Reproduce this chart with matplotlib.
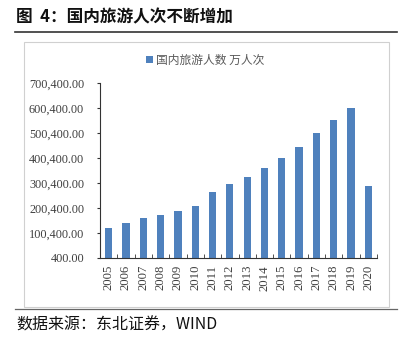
import matplotlib.pyplot as plt
import numpy as np
from matplotlib.patches import Rectangle
from matplotlib.lines import Line2D
from matplotlib.ticker import FuncFormatter

plt.rcParams['font.family'] = ['Liberation Serif', 'Noto Sans CJK SC', 'DejaVu Sans']

years = ['2005', '2006', '2007', '2008', '2009', '2010', '2011', '2012',
         '2013', '2014', '2015', '2016', '2017', '2018', '2019', '2020']
trips = [121200, 139400, 161000, 171200, 190200, 210300, 264100, 295700,
         326200, 361100, 400000, 444000, 500100, 553900, 600600, 287900]
y_ticks = [400, 100400, 200400, 300400, 400400, 500400, 600400, 700400]

fig = plt.figure(figsize=(4.01, 3.47), dpi=100)
W, H = 401, 347

# title with rule under it
fig.text(16 / W, 1 - 17 / H, '图  4：国内旅游人次不断增加', fontsize=12, fontweight='bold',
         family=['Noto Sans CJK SC'], va='center', ha='left', color='#111111')
fig.add_artist(Line2D([15 / W, 397 / W], [1 - 32 / H, 1 - 32 / H], color='#333333', lw=1.2))

# light frame around the chart area
fig.add_artist(Rectangle((24 / W, 1 - 307 / H), (389 - 24) / W, (307 - 42) / H,
                         fill=False, edgecolor='#d0d0d0', lw=0.8))

ax = fig.add_axes([100 / W, 1 - 258 / H, (377 - 100) / W, (258 - 83) / H])
x = np.arange(len(years))
ax.bar(x, np.array(trips) - y_ticks[0], bottom=y_ticks[0], width=0.42,
       color='#4f81bd', label='国内旅游人数 万人次')

ax.set_xlim(-0.5, len(years) - 0.5)
ax.set_ylim(y_ticks[0], y_ticks[-1])
ax.set_yticks(y_ticks)
ax.yaxis.set_major_formatter(FuncFormatter(lambda v, p: f'{v:,.2f}'))
ax.tick_params(axis='y', direction='out', length=2.5, labelsize=8.8, colors='#333333',
               labelcolor='#404040', pad=9)

ax.set_xticks(x)
ax.set_xticklabels(years, rotation=90, fontsize=9.2, color='#404040')
ax.tick_params(axis='x', length=0, pad=5)
ax.set_xticks(np.arange(len(years) + 1) - 0.5, minor=True)
ax.tick_params(axis='x', which='minor', direction='in', length=3, color='#333333')

for s in ['top', 'right']:
    ax.spines[s].set_visible(False)
for s in ['left', 'bottom']:
    ax.spines[s].set_color('#333333')
    ax.spines[s].set_linewidth(0.8)

leg = fig.legend(loc='center', bbox_to_anchor=(205 / W, 1 - 60 / H), frameon=False,
                 prop={'family': ['Noto Sans CJK SC'], 'size': 8.5},
                 handlelength=0.6, handleheight=0.6, handletextpad=0.3)
for t in leg.get_texts():
    t.set_color('#595959')

# source line
fig.add_artist(Line2D([15 / W, 397 / W], [1 - 309 / H, 1 - 309 / H], color='#666666', lw=0.9))
fig.text(16 / W, 1 - 325 / H, '数据来源：东北证券，WIND', fontsize=11.5,
         family=['Noto Sans CJK SC'], va='center', ha='left', color='#111111')

fig.savefig('out.png', dpi=100)
